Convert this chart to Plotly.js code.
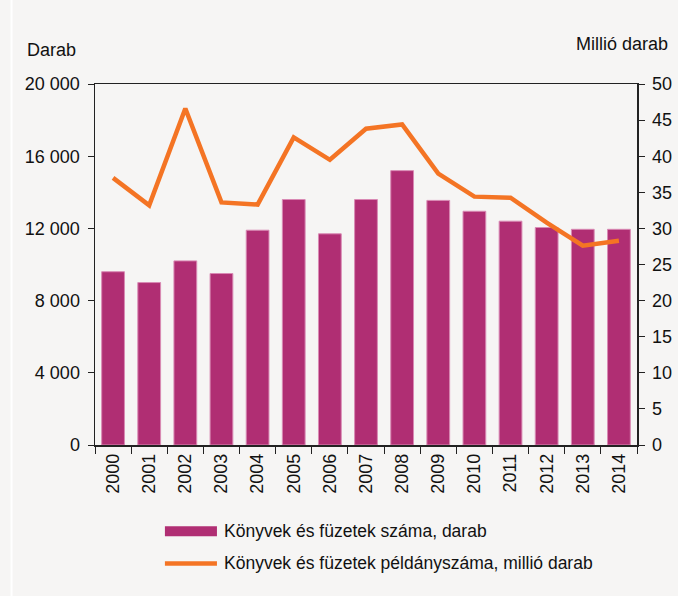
<!DOCTYPE html>
<html><head><meta charset="utf-8">
<script src="https://cdn.plot.ly/plotly-3.0.1.min.js"></script>
<style>body{margin:0;background:#f6f5f4}#c{width:678px;height:596px}</style>
</head><body><div id="c"></div>
<script>
const years = ["2000","2001","2002","2003","2004","2005","2006","2007","2008","2009","2010","2011","2012","2013","2014"];
const bookCount = [9600,9000,10200,9500,11900,13600,11700,13600,15200,13550,12950,12400,12050,11950,11950];
const copiesMillion = [37.0,33.2,46.6,33.6,33.3,42.6,39.5,43.8,44.4,37.6,34.4,34.25,30.8,27.6,28.3];
const leftTicks = [0,4000,8000,12000,16000,20000];
const rightTicks = [0,5,10,15,20,25,30,35,40,45,50];
const seriesNames = ["Könyvek és füzetek száma, darab","Könyvek és füzetek példányszáma, millió darab"];
const leftTitle = "Darab", rightTitle = "Millió darab";

const FONT = "Liberation Sans, Arial, sans-serif";
const barColor = "#b02e73", lineColor = "#f47424";

const traces = [
  {type:"bar", x:years, y:bookCount, name:seriesNames[0], marker:{color:barColor, line:{color:"#d98ab4", width:1}}, yaxis:"y", showlegend:false},
  {type:"scatter", mode:"lines", x:years, y:copiesMillion, name:seriesNames[1], line:{color:lineColor, width:4.5}, yaxis:"y2", showlegend:false}
];
const layout = {
  width:678, height:596,
  paper_bgcolor:"#f6f5f4", plot_bgcolor:"#f6f5f4",
  margin:{l:95, r:41, t:84, b:151},
  font:{family:FONT, size:18, color:"#111"},
  separators:", ",
  bargap:0.37,
  xaxis:{type:"category", showline:true, linecolor:"#222", linewidth:1.5, mirror:true,
    ticks:"outside", ticklen:7, tickcolor:"#222", tickson:"boundaries", tickangle:-90,
    tickfont:{family:FONT, size:18}, showgrid:false, zeroline:false},
  yaxis:{range:[0,20000], tickvals:leftTicks, tickformat:",d", showline:true, linecolor:"#222", linewidth:1.5,
    ticks:"outside", ticklen:6, tickcolor:"#222", showgrid:false, zeroline:false, ticklabelstandoff:4, tickfont:{family:FONT, size:18}},
  yaxis2:{range:[0,50], tickvals:rightTicks, overlaying:"y", side:"right", showline:true, linecolor:"#222", linewidth:1.5,
    ticks:"outside", ticklen:6, tickcolor:"#222", showgrid:false, zeroline:false, ticklabelstandoff:4, tickfont:{family:FONT, size:18}},
  shapes:[
    {type:"line", xref:"paper", yref:"paper", x0:-0.154, x1:-0.154, y0:-0.42, y1:1.25, line:{color:"#ffffff", width:2}},
    {type:"rect", xref:"paper", yref:"paper", x0:0.129, x1:0.225, y0:-0.253, y1:-0.225, fillcolor:barColor, line:{width:0}},
    {type:"line", xref:"paper", yref:"paper", x0:0.129, x1:0.225, y0:-0.328, y1:-0.328, line:{color:lineColor, width:4.5}}
  ],
  annotations:[
    {text:leftTitle, xref:"paper", yref:"paper", x:-0.13, y:1.095, xanchor:"left", yanchor:"middle", showarrow:false, font:{family:FONT, size:18}},
    {text:rightTitle, xref:"paper", yref:"paper", x:1.06, y:1.11, xanchor:"right", yanchor:"middle", showarrow:false, font:{family:FONT, size:18}},
    {text:seriesNames[0], xref:"paper", yref:"paper", x:0.234, y:-0.239, xanchor:"left", yanchor:"middle", showarrow:false, font:{family:FONT, size:17.5}},
    {text:seriesNames[1], xref:"paper", yref:"paper", x:0.234, y:-0.328, xanchor:"left", yanchor:"middle", showarrow:false, font:{family:FONT, size:17.5}}
  ]
};
Plotly.newPlot("c", traces, layout, {displayModeBar:false, staticPlot:true});
</script></body></html>
